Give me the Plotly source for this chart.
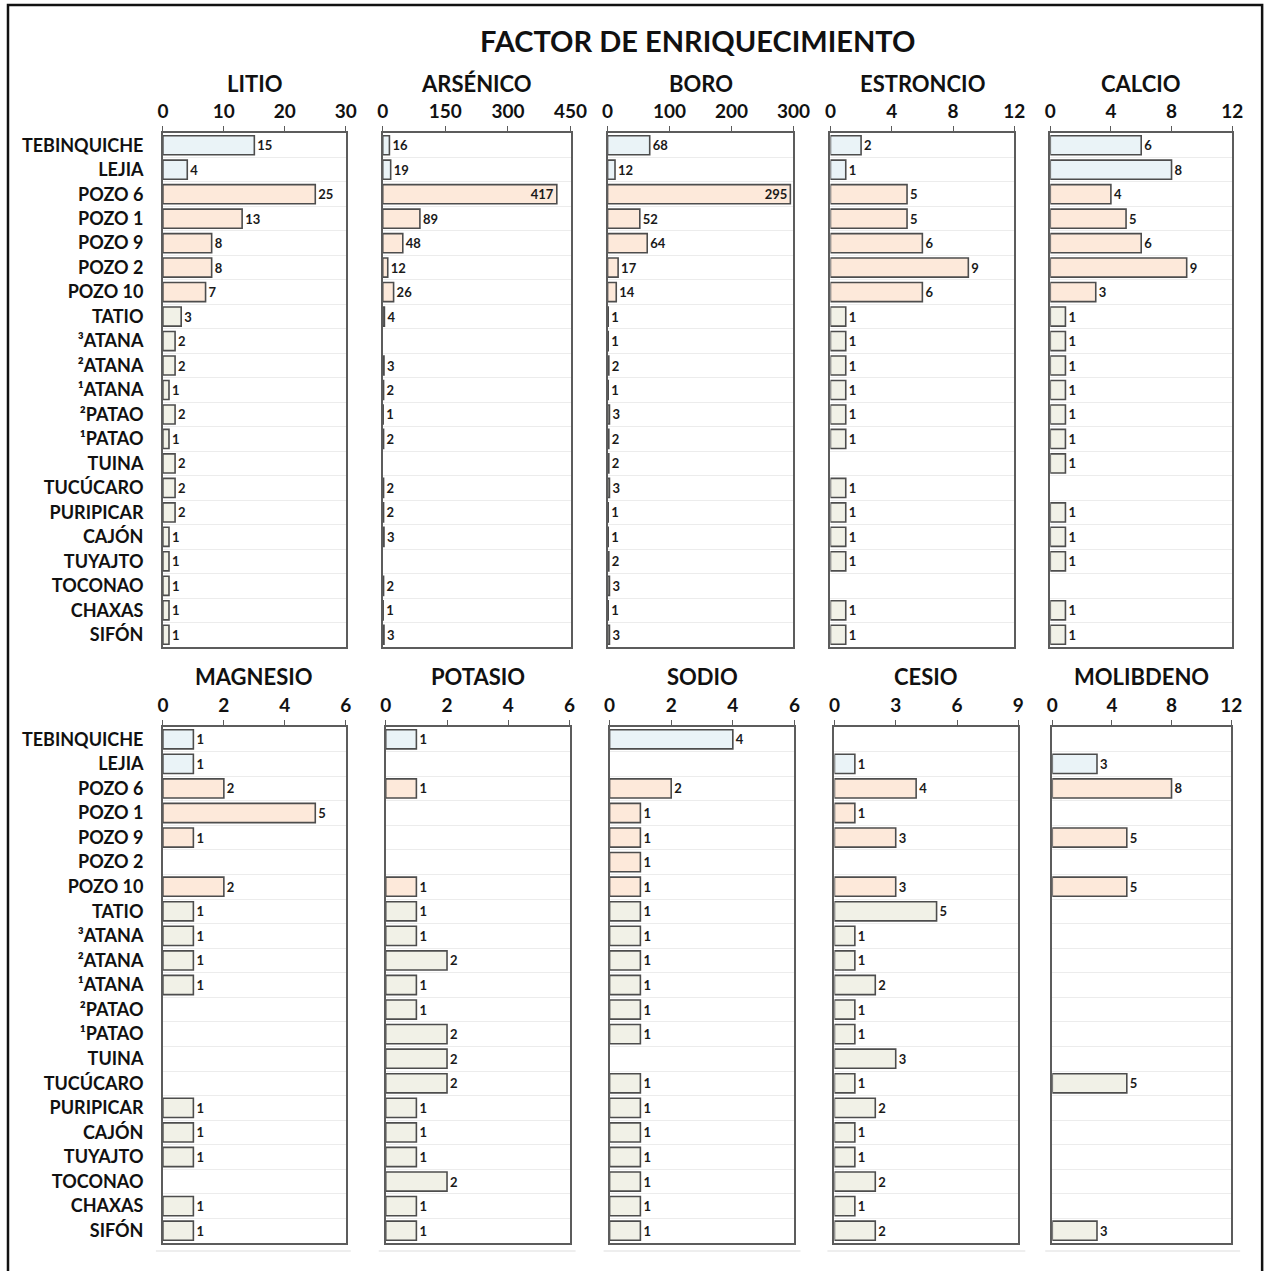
import plotly.graph_objects as go

W, H = 1265, 1271

# Sampling sites (top to bottom)
sites = ["TEBINQUICHE", "LEJIA", "POZO 6", "POZO 1", "POZO 9", "POZO 2", "POZO 10",
         "TATIO", "³ATANA", "²ATANA", "¹ATANA", "²PATAO", "¹PATAO", "TUINA",
         "TUCÚCARO", "PURIPICAR", "CAJÓN", "TUYAJTO", "TOCONAO", "CHAXAS", "SIFÓN"]
site_group = ["laguna"] * 2 + ["pozo"] * 5 + ["vertiente"] * 14

# Enrichment factor per element (None = not reported)
litio = [15, 4, 25, 13, 8, 8, 7, 3, 2, 2, 1, 2, 1, 2, 2, 2, 1, 1, 1, 1, 1]
arsenico = [16, 19, 417, 89, 48, 12, 26, 4, None, 3, 2, 1, 2, None, 2, 2, 3, None, 2, 1, 3]
boro = [68, 12, 295, 52, 64, 17, 14, 1, 1, 2, 1, 3, 2, 2, 3, 1, 1, 2, 3, 1, 3]
estroncio = [2, 1, 5, 5, 6, 9, 6, 1, 1, 1, 1, 1, 1, None, 1, 1, 1, 1, None, 1, 1]
calcio = [6, 8, 4, 5, 6, 9, 3, 1, 1, 1, 1, 1, 1, 1, None, 1, 1, 1, None, 1, 1]
magnesio = [1, 1, 2, 5, 1, None, 2, 1, 1, 1, 1, None, None, None, None, 1, 1, 1, None, 1, 1]
potasio = [1, None, 1, None, None, None, 1, 1, 1, 2, 1, 1, 2, 2, 2, 1, 1, 1, 2, 1, 1]
sodio = [4, None, 2, 1, 1, 1, 1, 1, 1, 1, 1, 1, 1, None, 1, 1, 1, 1, 1, 1, 1]
cesio = [None, 1, 4, 1, 3, None, 3, 5, 1, 1, 2, 1, 1, 3, 1, 2, 1, 1, 2, 1, 2]
molibdeno = [None, 3, 8, None, 5, None, 5, None, None, None, None, None, None, None,
             5, None, None, None, None, None, 3]

element_names = ["LITIO", "ARSÉNICO", "BORO", "ESTRONCIO", "CALCIO",
                 "MAGNESIO", "POTASIO", "SODIO", "CESIO", "MOLIBDENO"]
element_values = [litio, arsenico, boro, estroncio, calcio,
                  magnesio, potasio, sodio, cesio, molibdeno]
axis_ticks = [[0, 10, 20, 30], [0, 150, 300, 450], [0, 100, 200, 300], [0, 4, 8, 12], [0, 4, 8, 12],
              [0, 2, 4, 6], [0, 2, 4, 6], [0, 2, 4, 6], [0, 3, 6, 9], [0, 4, 8, 12]]

group_fill = {"laguna": "#eaf3f7", "pozo": "#fde9da", "vertiente": "#f1f1e7"}

# panel placement in pixels: (left, right) per column, (top, bottom) per row
col_px = [[(162, 345), (382, 570), (607, 793), (830, 1014), (1050, 1232)],
          [(162, 345), (385, 569), (609, 794), (834, 1018), (1052, 1231)]]
row_px = [(133, 647), (727, 1243)]
title_y_px = [84, 677]

FONT = "Lato"
frame_col = "#5c5c5c"
bar_edge = "#4d4d4d"

# horizontal page calibration: the rendered page comes out slightly narrower
# and shifted, so pixel targets are mapped back before converting to paper units
X_SCALE, X_SHIFT = 0.9825, 5.0


def px_x(p):
    return (p - X_SHIFT) / X_SCALE / W


def px_y(p):
    return 1 - p / H


fig = go.Figure()
annotations = []

ypos = list(range(len(sites)))
fills = [group_fill[g] for g in site_group]

for i, (name, vals, ticks) in enumerate(zip(element_names, element_values, axis_ticks)):
    r, c = divmod(i, 5)
    k = i + 1
    xa = "x" if k == 1 else f"x{k}"
    ya = "y" if k == 1 else f"y{k}"
    xmax = ticks[-1]
    xl, xr = col_px[r][c]
    yt, yb = row_px[r]
    xdom = [px_x(xl), px_x(xr)]
    ydom = [px_y(yb), px_y(yt)]

    texts = ["" if v is None else str(v) for v in vals]
    tpos = ["inside" if (v is not None and v / xmax > 0.9) else "outside" for v in vals]

    fig.add_trace(go.Bar(
        x=vals, y=ypos, orientation="h", xaxis=xa, yaxis=ya,
        marker=dict(color=fills, line=dict(color=bar_edge, width=1.6)),
        text=texts, textposition=tpos, insidetextanchor="end",
        constraintext="none", cliponaxis=False,
        textfont=dict(family=FONT, size=13, color="#1a1a1a", weight="bold"),
        showlegend=False, hoverinfo="skip",
    ))

    fig.layout[("xaxis" if k == 1 else f"xaxis{k}")] = dict(
        domain=xdom, anchor=ya, side="top", range=[0, xmax],
        tickvals=ticks, ticktext=[str(t) for t in ticks],
        ticks="outside", ticklen=5, tickwidth=1.2, tickcolor=frame_col,
        ticklabelstandoff=1,
        tickfont=dict(family=FONT, size=19, color="#111111", weight="bold"),
        showgrid=False, zeroline=False,
        showline=True, mirror=True, linecolor=frame_col, linewidth=1.6,
        fixedrange=True,
    )
    fig.layout[("yaxis" if k == 1 else f"yaxis{k}")] = dict(
        domain=ydom, anchor=xa, range=[len(sites) - 0.5, -0.5],
        tickvals=ypos, ticktext=sites, showticklabels=(c == 0),
        ticks="", ticklabelstandoff=14,
        tickfont=dict(family=FONT, size=18, color="#111111", weight="bold"),
        showgrid=False, zeroline=False,
        minor=dict(tickvals=[p + 0.5 for p in ypos[:-1]], showgrid=True,
                   gridcolor="#ececec", gridwidth=1.2, ticks=""),
        showline=True, mirror=True, linecolor=frame_col, linewidth=1.6,
        fixedrange=True,
    )

    annotations.append(dict(
        text=name, x=px_x((xl + xr) / 2), y=px_y(title_y_px[r]),
        xref="paper", yref="paper", xanchor="center", yanchor="middle",
        showarrow=False,
        font=dict(family=FONT, size=22, color="#111111", weight="bold"),
    ))

annotations.append(dict(
    text="FACTOR DE ENRIQUECIMIENTO", x=px_x(697), y=px_y(40),
    xref="paper", yref="paper", xanchor="center", yanchor="middle",
    showarrow=False,
    font=dict(family=FONT, size=29, color="#111111", weight="bold"),
))

shapes = [dict(type="rect", xref="paper", yref="paper",
               x0=px_x(7), x1=px_x(1262), y0=-0.02, y1=px_y(5),
               line=dict(color="#111111", width=2.5), fillcolor="rgba(0,0,0,0)")]
# faint baseline strips under the lower panels
for xl, xr in [(155, 350), (378, 575), (603, 800), (827, 1025), (1045, 1240)]:
    shapes.append(dict(type="line", xref="paper", yref="paper",
                       x0=px_x(xl), x1=px_x(xr), y0=px_y(1251), y1=px_y(1251),
                       line=dict(color="#eeeeee", width=2)))

fig.update_layout(
    width=W, height=H, autosize=False, margin=dict(l=0, r=0, t=0, b=0),
    paper_bgcolor="white", plot_bgcolor="white",
    bargap=0.22, annotations=annotations, shapes=shapes,
    font=dict(family=FONT),
)

fig.write_html("out.html", config={"responsive": False})
